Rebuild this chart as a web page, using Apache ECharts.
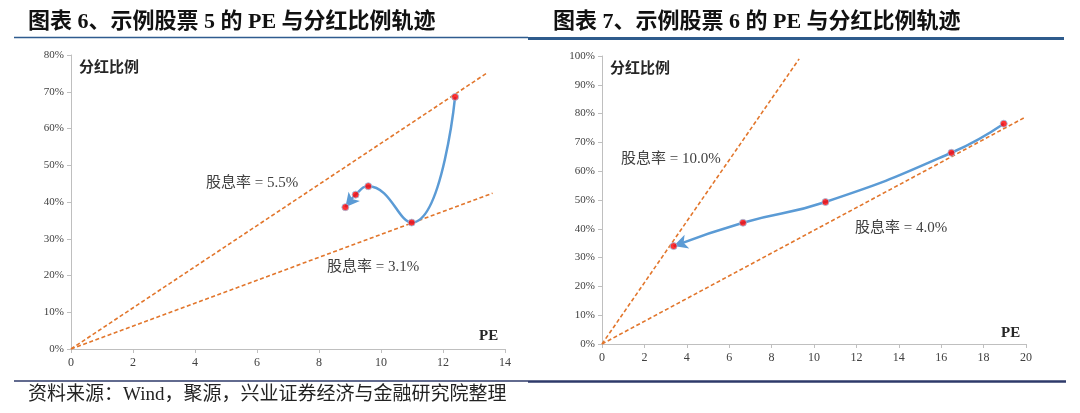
<!DOCTYPE html>
<html>
<head>
<meta charset="utf-8">
<script src="https://cdn.jsdelivr.net/npm/echarts@6/dist/echarts.min.js"></script>
<style>
  html, body { margin: 0; padding: 0; background: #fff; }
  #chart { width: 1080px; height: 413px; }
</style>
</head>
<body>
<div id="chart"></div>
<script>
// 图表6：示例股票5（PE, 分红比例%）
const pe5 = [12.39, 10.99, 9.59, 9.18, 8.85];
const payout5 = [68.6, 34.4, 44.3, 42.0, 38.6];
const yieldHigh5 = [[0, 0], [13.4, 75.0]]; // 股息率 = 5.5%
const yieldLow5 = [[0, 0], [13.6, 42.4]];  // 股息率 = 3.1%
const xRange5 = [0, 14, 2];
const yRange5 = [0, 80, 10];

// 图表7：示例股票6
const pe6 = [18.95, 16.48, 10.54, 6.65, 3.38];
const payout6 = [76.5, 66.4, 49.3, 42.1, 34.0];
const yieldHigh6 = [[0, 0], [9.3, 99.0]];   // 股息率 = 10.0%
const yieldLow6 = [[0, 0], [19.95, 78.7]];  // 股息率 = 4.0%
const xRange6 = [0, 20, 2];
const yRange6 = [0, 100, 10];

const serif = '"Liberation Serif", "Times New Roman", "Noto Sans CJK SC", serif';
const orange = "#E2762C";
const blue = "#5B9BD5";

const pairs = (xs, ys) => xs.map((x, i) => [x, ys[i]]);

function axes(idx, xr, yr) {
	const axisLine = { show: true, lineStyle: { color: "#BFBFBF", width: 1 } };
	const axisTick = { show: true, length: 4, lineStyle: { color: "#BFBFBF" } };
	return {
		x: {
			type: "value", gridIndex: idx, min: xr[0], max: xr[1], interval: xr[2],
			axisLine, axisTick, splitLine: { show: false },
			axisLabel: { color: "#404040", fontFamily: serif, fontSize: 12, margin: 8 }
		},
		y: {
			type: "value", gridIndex: idx, min: yr[0], max: yr[1], interval: yr[2],
			axisLine, axisTick, splitLine: { show: false },
			axisLabel: { color: "#404040", fontFamily: serif, fontSize: 11, margin: 7, formatter: "{value}%" }
		}
	};
}

function seriesFor(idx, pe, payout, high, low) {
	const dashed = (data) => ({
		type: "line", xAxisIndex: idx, yAxisIndex: idx, data,
		showSymbol: false, silent: true,
		lineStyle: { color: orange, width: 1.6, type: [4, 2.5] }
	});
	const path = pairs(pe, payout);
	const n = path.length;
	return [
		dashed(high),
		dashed(low),
		{
			type: "line", xAxisIndex: idx, yAxisIndex: idx, data: path,
			smooth: 0.5, showSymbol: false, silent: true,
			lineStyle: { color: blue, width: 2.5 },
			markLine: {
				silent: true,
				symbol: ["none", "arrow"],
				symbolSize: [11, 14],
				label: { show: false },
				lineStyle: { color: blue, width: 0, type: "solid" },
				data: [[{ coord: path[n - 2] }, { coord: path[n - 1] }]]
			}
		},
		{
			type: "scatter", xAxisIndex: idx, yAxisIndex: idx, data: path,
			symbolSize: 7, silent: true, z: 5,
			itemStyle: { color: "#FF0000", borderColor: "#9DC3E6", borderWidth: 1 }
		}
	];
}

const a5 = axes(0, xRange5, yRange5);
const a6 = axes(1, xRange6, yRange6);

const txt = (x, y, text, font, fill, align) => ({
	type: "text", x, y, silent: true,
	style: { text, font, fill: fill || "#262626", align: align || "left", verticalAlign: "middle" }
});
const rule = (x1, x2, y, w, c) => ({
	type: "line", silent: true,
	shape: { x1, y1: y, x2, y2: y },
	style: { stroke: c, lineWidth: w }
});

const titleFont = 'bold 22px ' + serif;
const noteFont = '15px ' + serif;
const labelFont = 'bold 15px ' + serif;

const chart = echarts.init(document.getElementById("chart"));
chart.setOption({
	animation: false,
	backgroundColor: "#fff",
	grid: [
		{ left: 71, top: 55, width: 434, height: 294 },
		{ left: 602, top: 56, width: 424, height: 288 }
	],
	xAxis: [a5.x, a6.x],
	yAxis: [a5.y, a6.y],
	series: [
		...seriesFor(0, pe5, payout5, yieldHigh5, yieldLow5),
		...seriesFor(1, pe6, payout6, yieldHigh6, yieldLow6)
	],
	graphic: [
		txt(28, 22, "图表 6、示例股票 5 的 PE 与分红比例轨迹", titleFont, "#111"),
		txt(553, 22, "图表 7、示例股票 6 的 PE 与分红比例轨迹", titleFont, "#111"),
		rule(14, 528, 37.5, 1.6, "#2F5C8F"),
		rule(528, 1064, 38.5, 3, "#2E5B8C"),
		rule(14, 528, 381, 1.6, "#2E3A6A"),
		rule(528, 1066, 381.5, 2.4, "#2E3A6A"),
		txt(28, 395, "资料来源：Wind，聚源，兴业证券经济与金融研究院整理", '19px ' + serif, "#222"),
		txt(79, 68, "分红比例", labelFont),
		txt(610, 69, "分红比例", labelFont),
		txt(479, 336, "PE", labelFont),
		txt(1001, 333, "PE", labelFont),
		txt(206, 183, "股息率 = 5.5%", noteFont, "#404040"),
		txt(327, 267, "股息率 = 3.1%", noteFont, "#404040"),
		txt(621, 159, "股息率 = 10.0%", noteFont, "#404040"),
		txt(855, 228, "股息率 = 4.0%", noteFont, "#404040")
	]
});
</script>
</body>
</html>
